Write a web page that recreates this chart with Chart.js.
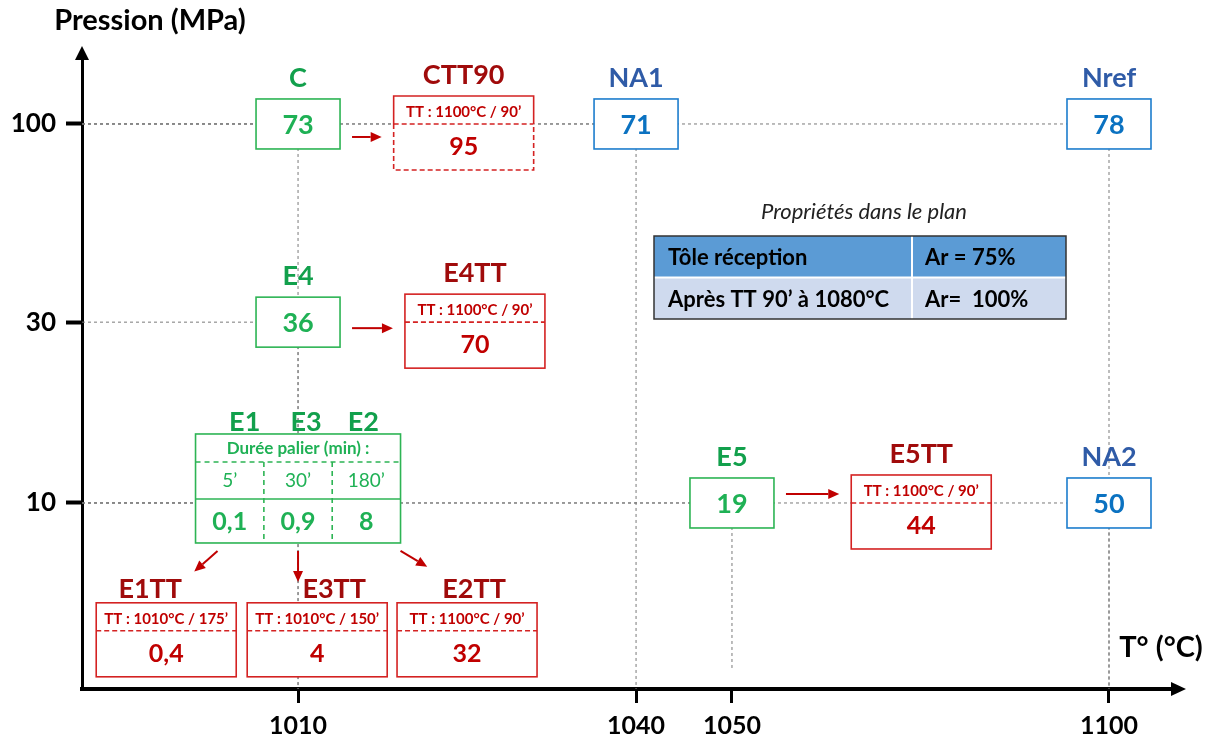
<!DOCTYPE html>
<html>
<head>
<meta charset="utf-8">
<script src="https://cdn.jsdelivr.net/npm/chart.js@4.4.1/dist/chart.umd.min.js"></script>
<style>html,body{margin:0;background:#fff}</style>
</head>
<body>
<canvas id="c" width="1212" height="738"></canvas>
<script>
// axes
const xTicks = [1010, 1040, 1050, 1100];
const yTicks = [100, 30, 10];

// samples as received (E = green series, N = blue series)
const sNames = ['C', 'E4', 'E5', 'NA1', 'Nref', 'NA2'];
const sTemp  = [1010, 1010, 1050, 1040, 1100, 1100];
const sPress = [100, 30, 10, 100, 100, 10];
const sVal   = [73, 36, 19, 71, 78, 50];
const sKind  = ['E', 'E', 'E', 'N', 'N', 'N'];

// E1 / E3 / E2 : 1010 °C, 10 MPa, different dwell times
const gNames = ['E1', 'E3', 'E2'];
const gDwell = ['5’', '30’', '180’'];
const gVal   = [0.1, 0.9, 8];
const gTemp  = 1010;
const gPress = 10;

// after heat treatment, drawn next to the parent sample
const tNames   = ['CTT90', 'E4TT', 'E5TT', 'E1TT', 'E3TT', 'E2TT'];
const tParent  = ['C', 'E4', 'E5', 'E1', 'E3', 'E2'];
const tCond    = ['TT : 1100°C / 90’', 'TT : 1100°C / 90’', 'TT : 1100°C / 90’',
                  'TT : 1010°C / 175’', 'TT : 1010°C / 150’', 'TT : 1100°C / 90’'];
const tVal     = [95, 70, 44, 0.4, 4, 32];
const tAtTemp  = [1024.7, 1025.7, 1075.1, 998.3, 1011.7, 1025];
const tAtPress = [100, 30, 10, 4.6, 4.6, 4.6];

// in-plane properties table
const tblTitle = 'Propriétés dans le plan';
const tblHead  = ['Tôle réception', 'Ar = 75%'];
const tblRow   = ['Après TT 90’ à 1080°C', 'Ar=  100%'];

const F = 'Lato, "Open Sans", sans-serif';
const COL = {
  E: {label: '#12a04c', val: '#1fb155', line: '#2db454'},
  N: {label: '#2f5ba7', val: '#0b72c1', line: '#1d7dcd'},
  T: {label: '#a00b0b', val: '#c00000', line: '#d42222'}
};
const fr = v => String(v).replace('.', ',');

// x axis is schematic: ticks are not evenly spaced in °C
class SegmentScale extends Chart.LinearScale {
  _frac(v){
    const k = this.options.knots, f = this.options.fracs;
    let i = 0;
    while(i < k.length - 2 && v > k[i+1]) i++;
    return f[i] + (v - k[i]) / (k[i+1] - k[i]) * (f[i+1] - f[i]);
  }
  getPixelForValue(v){ return this.getPixelForDecimal(this._frac(v)); }
  getValueForPixel(p){
    const k = this.options.knots, f = this.options.fracs;
    const d = this.getDecimalForPixel(p);
    let i = 0;
    while(i < f.length - 2 && d > f[i+1]) i++;
    return k[i] + (d - f[i]) / (f[i+1] - f[i]) * (k[i+1] - k[i]);
  }
}
SegmentScale.id = 'segment';
SegmentScale.defaults = Chart.LinearScale.defaults;
Chart.register(SegmentScale);

function txt(ctx, s, x, y, font, color, align){
  ctx.font = font; ctx.fillStyle = color;
  ctx.textAlign = align || 'center'; ctx.textBaseline = 'middle';
  ctx.fillText(s, x, y);
}

function arrow(ctx, x1, y1, x2, y2, col){
  const a = Math.atan2(y2 - y1, x2 - x1), h = 11, w = 5;
  ctx.setLineDash([]); ctx.strokeStyle = col; ctx.fillStyle = col; ctx.lineWidth = 2;
  ctx.beginPath(); ctx.moveTo(x1, y1); ctx.lineTo(x2 - h*Math.cos(a), y2 - h*Math.sin(a)); ctx.stroke();
  ctx.beginPath(); ctx.moveTo(x2, y2);
  ctx.lineTo(x2 - h*Math.cos(a) + w*Math.sin(a), y2 - h*Math.sin(a) - w*Math.cos(a));
  ctx.lineTo(x2 - h*Math.cos(a) - w*Math.sin(a), y2 - h*Math.sin(a) + w*Math.cos(a));
  ctx.closePath(); ctx.fill();
}

function rect(ctx, x, y, w, h, col, dash){
  ctx.fillStyle = '#fff'; ctx.fillRect(x, y, w, h);
  ctx.setLineDash(dash || []); ctx.strokeStyle = col; ctx.lineWidth = 1.6;
  ctx.strokeRect(x, y, w, h); ctx.setLineDash([]);
}

const diagram = {
  id: 'diagram',
  beforeDatasetsDraw(chart){
    const {ctx, chartArea: a, scales: {x, y}} = chart;
    ctx.save();
    ctx.strokeStyle = '#7a7a7a'; ctx.lineWidth = 1; ctx.setLineDash([3, 3]);
    sNames.forEach((n, i) => {
      const px = x.getPixelForValue(sTemp[i]), py = y.getPixelForValue(sPress[i]);
      ctx.beginPath(); ctx.moveTo(a.left, py); ctx.lineTo(px, py); ctx.stroke();
      const end = sTemp[i] === 1050 ? a.bottom - 18 : a.bottom;
      ctx.beginPath(); ctx.moveTo(px, py); ctx.lineTo(px, end); ctx.stroke();
    });
    const gy = y.getPixelForValue(gPress);
    ctx.beginPath(); ctx.moveTo(a.left, gy); ctx.lineTo(x.getPixelForValue(gTemp), gy); ctx.stroke();
    ctx.restore();
  },
  afterDatasetsDraw(chart){
    const {ctx, chartArea: a, scales: {x, y}} = chart;
    ctx.save();
    const box = {};

    // samples
    sNames.forEach((n, i) => {
      const c = COL[sKind[i]];
      const px = x.getPixelForValue(sTemp[i]), py = y.getPixelForValue(sPress[i]);
      rect(ctx, px - 42, py - 25, 84, 50, c.line);
      txt(ctx, n, px, py - 46, 'bold 27px ' + F, c.label);
      txt(ctx, fr(sVal[i]), px, py + 1, 'bold 27px ' + F, c.val);
      box[n] = {l: px - 42, r: px + 42, t: py - 25, b: py + 25, cx: px, cy: py};
    });

    // E1 / E3 / E2 group
    const gx = x.getPixelForValue(gTemp), gy = y.getPixelForValue(gPress);
    const gw = 205, gl = gx - gw/2, gt = gy - 69, gb = gy + 40, cw = gw / 3;
    const c = COL.E;
    rect(ctx, gl, gt, gw, gb - gt, c.line);
    ctx.strokeStyle = c.line; ctx.lineWidth = 1.6;
    ctx.setLineDash([5, 4]);
    ctx.beginPath(); ctx.moveTo(gl, gy - 41); ctx.lineTo(gl + gw, gy - 41); ctx.stroke();
    for(let k = 1; k < 3; k++){
      ctx.beginPath(); ctx.moveTo(gl + k*cw, gy - 41); ctx.lineTo(gl + k*cw, gb); ctx.stroke();
    }
    ctx.setLineDash([]);
    ctx.beginPath(); ctx.moveTo(gl, gy - 4); ctx.lineTo(gl + gw, gy - 4); ctx.stroke();
    txt(ctx, 'Durée palier (min) :', gx, gy - 54, 'bold 17px ' + F, c.val);
    const lblShift = [15, 8, -3];
    gNames.forEach((n, k) => {
      const cx = gl + cw*(k + 0.5);
      txt(ctx, n, cx + lblShift[k], gy - 81, 'bold 27px ' + F, c.label);
      txt(ctx, gDwell[k], cx, gy - 22, '19px ' + F, c.val);
      txt(ctx, fr(gVal[k]), cx, gy + 19, 'bold 25px ' + F, c.val);
      box[n] = {cx: cx, b: gb, l: gl, r: gl + gw};
    });

    // heat treated results
    const t = COL.T;
    const arrowDy = {C: 13, E4: 6, E5: -9};
    const labelDx = {E1TT: -16, E3TT: 17, E2TT: 7};
    tNames.forEach((n, i) => {
      const px = x.getPixelForValue(tAtTemp[i]), py = y.getPixelForValue(tAtPress[i]);
      const w = 140, l = px - w/2, top = py - 28, bot = py + 46;
      if(n === 'CTT90'){
        rect(ctx, l, top, w, bot - top, '#fff');
        ctx.strokeStyle = t.line; ctx.lineWidth = 1.6;
        ctx.beginPath(); ctx.moveTo(l, py); ctx.lineTo(l, top); ctx.lineTo(l + w, top); ctx.lineTo(l + w, py); ctx.stroke();
        ctx.setLineDash([5, 3]);
        ctx.beginPath(); ctx.moveTo(l, py); ctx.lineTo(l, bot); ctx.lineTo(l + w, bot); ctx.lineTo(l + w, py); ctx.stroke();
        ctx.setLineDash([]);
      } else {
        rect(ctx, l, top, w, bot - top, t.line);
      }
      ctx.strokeStyle = t.line; ctx.lineWidth = 1.6; ctx.setLineDash([5, 3]);
      ctx.beginPath(); ctx.moveTo(l, py); ctx.lineTo(l + w, py); ctx.stroke();
      ctx.setLineDash([]);
      txt(ctx, tCond[i], px, py - 12, 'bold 15px ' + F, t.val);
      txt(ctx, fr(tVal[i]), px, py + 23, 'bold 25px ' + F, t.val);
      const low = labelDx[n] !== undefined;
      txt(ctx, n, px + (labelDx[n] || 0), top - (low ? 14 : 21), 'bold 27px ' + F, t.label);

      const p = box[tParent[i]];
      if(p.t !== undefined){
        const ay = p.cy + arrowDy[tParent[i]];
        arrow(ctx, p.r + 12, ay, l - 12, ay, t.val);
      }
    });
    // arrows from the group to its treated boxes
    const gDirs = [[-0.75, 0.66], [0, 1], [0.86, 0.51]];
    const gStart = [gl + 22, gx, gl + gw];
    gNames.forEach((n, k) => {
      const sx = gStart[k], sy = gb + 8, L = 31;
      arrow(ctx, sx, sy, sx + gDirs[k][0]*L, sy + gDirs[k][1]*L, t.val);
    });

    // properties table
    const tx = 654, ty = 236, tw = 412, c1 = 258, rh = 41;
    txt(ctx, tblTitle, tx + tw/2 + 4, ty - 24, 'italic 22px ' + F, '#222');
    ctx.fillStyle = '#5b9bd5'; ctx.fillRect(tx, ty, tw, rh);
    ctx.fillStyle = '#cfdaee'; ctx.fillRect(tx, ty + rh + 1, tw, rh);
    ctx.strokeStyle = '#fff'; ctx.lineWidth = 2;
    ctx.beginPath(); ctx.moveTo(tx + c1, ty); ctx.lineTo(tx + c1, ty + 2*rh + 1);
    ctx.moveTo(tx, ty + rh + 0.5); ctx.lineTo(tx + tw, ty + rh + 0.5); ctx.stroke();
    ctx.strokeStyle = '#333'; ctx.lineWidth = 1.5;
    ctx.strokeRect(tx, ty, tw, 2*rh + 1);
    const tf = 'bold 22px ' + F;
    txt(ctx, tblHead[0], tx + 14, ty + rh/2 + 1, tf, '#000', 'left');
    txt(ctx, tblHead[1], tx + c1 + 13, ty + rh/2 + 1, tf, '#000', 'left');
    txt(ctx, tblRow[0], tx + 14, ty + rh*1.5 + 2, tf, '#000', 'left');
    txt(ctx, tblRow[1], tx + c1 + 13, ty + rh*1.5 + 2, tf, '#000', 'left');

    // axis arrows and titles
    ctx.fillStyle = '#000';
    ctx.beginPath(); ctx.moveTo(a.left, a.top - 12); ctx.lineTo(a.left - 7, a.top + 2); ctx.lineTo(a.left + 7, a.top + 2); ctx.closePath(); ctx.fill();
    ctx.beginPath(); ctx.moveTo(a.right + 14, a.bottom); ctx.lineTo(a.right - 1, a.bottom - 7); ctx.lineTo(a.right - 1, a.bottom + 7); ctx.closePath(); ctx.fill();
    txt(ctx, 'Pression (MPa)', 150, 21, 'bold 29px ' + F, '#000');
    txt(ctx, 'T° (°C)', 1161, 648, 'bold 29px ' + F, '#000');
    ctx.restore();
  }
};

new Chart(document.getElementById('c'), {
  type: 'scatter',
  data: {
    datasets: [
      {label: 'Échantillons', data: sNames.map((n, i) => ({x: sTemp[i], y: sPress[i]})), pointRadius: 0},
      {label: 'E1 / E3 / E2', data: [{x: gTemp, y: gPress}], pointRadius: 0},
      {label: 'Après TT', data: tNames.map((n, i) => ({x: tAtTemp[i], y: tAtPress[i]})), pointRadius: 0}
    ]
  },
  options: {
    responsive: false, animation: false, devicePixelRatio: 1,
    layout: {padding: {top: 58, right: 40, left: 0, bottom: 0}},
    plugins: {legend: {display: false}, tooltip: {enabled: false}},
    scales: {
      x: {
        type: 'segment', min: 990, max: 1110, bounds: 'data',
        knots: xTicks, fracs: [0.1982, 0.5083, 0.5963, 0.9422],
        afterBuildTicks: s => { s.ticks = xTicks.map(v => ({value: v})); },
        afterFit: s => { s.height = 49; },
        ticks: {callback: v => String(v), autoSkip: false, maxRotation: 0, padding: 8,
                color: '#000', font: {family: F, size: 25, weight: 'bold'}},
        grid: {drawOnChartArea: false, tickLength: 14, tickWidth: 3, tickColor: '#000'},
        border: {display: true, color: '#000', width: 4}
      },
      y: {
        type: 'logarithmic', min: 3.23, max: 149.3, bounds: 'data',
        afterBuildTicks: s => { s.ticks = yTicks.map(v => ({value: v})); },
        afterFit: s => { s.width = 82; },
        ticks: {callback: v => String(v), padding: 10,
                color: '#000', font: {family: F, size: 26, weight: 'bold'}},
        grid: {drawOnChartArea: false, tickLength: 16, tickWidth: 4, tickColor: '#000'},
        border: {display: true, color: '#000', width: 3}
      }
    }
  },
  plugins: [diagram]
});
</script>
</body>
</html>
